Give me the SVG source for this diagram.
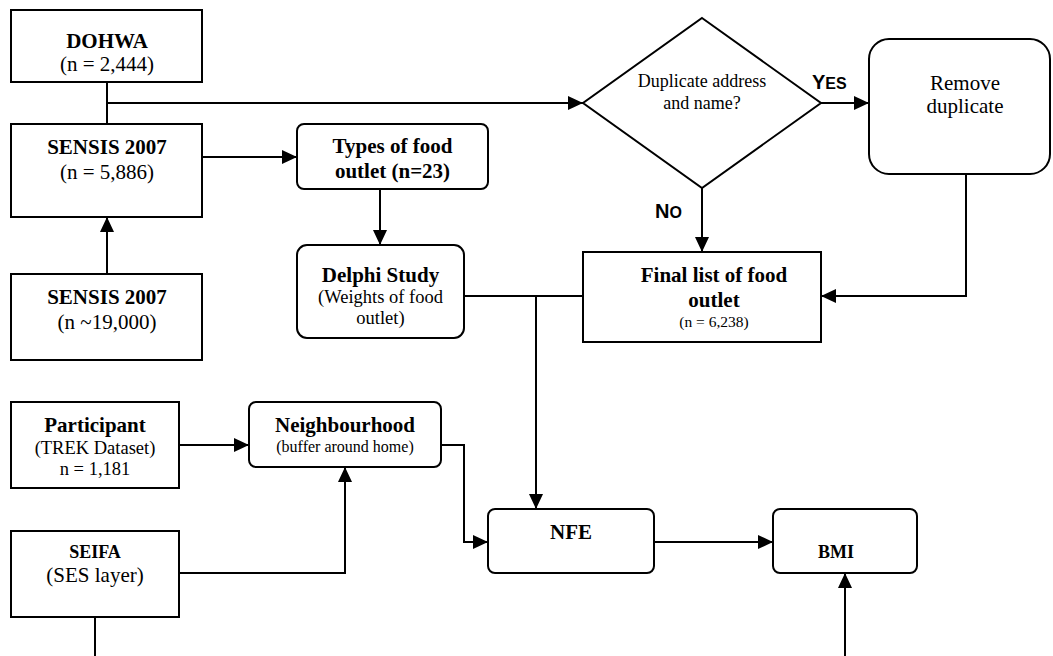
<svg xmlns="http://www.w3.org/2000/svg" width="1053" height="656" viewBox="0 0 1053 656">
<style>
.box{fill:#fff;stroke:#000;stroke-width:2}
.t{font-family:"Liberation Serif","Times New Roman",serif;fill:#000;text-anchor:middle}
.b{font-weight:bold}
.lbl{font-family:"Liberation Sans",Arial,sans-serif;font-weight:bold;fill:#000}
.c{fill:none;stroke:#000;stroke-width:2}
</style>
<defs>
<marker id="ah" markerUnits="userSpaceOnUse" markerWidth="15" markerHeight="14" refX="15" refY="7" orient="auto">
<path d="M0,0 L15,7 L0,14 z" fill="#000"/>
</marker>
</defs>
<rect width="1053" height="656" fill="#fff"/>
<g id="connectors">
<path class="c" d="M107,82 V124"/>
<path class="c" d="M107,103 H583" marker-end="url(#ah)"/>
<path class="c" d="M202,157 H297" marker-end="url(#ah)"/>
<path class="c" d="M107,274 V217" marker-end="url(#ah)"/>
<path class="c" d="M380,189 V245" marker-end="url(#ah)"/>
<path class="c" d="M464,296 H583"/>
<path class="c" d="M536,296 V509" marker-end="url(#ah)"/>
<path class="c" d="M821,103 H869" marker-end="url(#ah)"/>
<path class="c" d="M702,188 V252" marker-end="url(#ah)"/>
<path class="c" d="M966,174 V296 H821" marker-end="url(#ah)"/>
<path class="c" d="M179,445 H249" marker-end="url(#ah)"/>
<path class="c" d="M179,573 H345 V467" marker-end="url(#ah)"/>
<path class="c" d="M441,445 H464 V542 H488" marker-end="url(#ah)"/>
<path class="c" d="M654,542 H773" marker-end="url(#ah)"/>
<path class="c" d="M95,617 V656"/>
<path class="c" d="M845,656 V573" marker-end="url(#ah)"/>
<text class="lbl" x="812" y="89"><tspan font-size="20">Y</tspan><tspan font-size="16">ES</tspan></text>
<text class="lbl" x="655" y="218"><tspan font-size="20">N</tspan><tspan font-size="16">O</tspan></text>
</g>
<g id="dohwa">
<rect class="box" x="11" y="10" width="191" height="72"/>
<text class="t b" x="107" y="48" font-size="21">DOHWA</text>
<text class="t" x="107" y="71" font-size="21">(n = 2,444)</text>
</g>
<g id="sensis1">
<rect class="box" x="11" y="124" width="191" height="93"/>
<text class="t b" x="107" y="154" font-size="21">SENSIS 2007</text>
<text class="t" x="107" y="179" font-size="21">(n = 5,886)</text>
</g>
<g id="sensis2">
<rect class="box" x="11" y="274" width="191" height="86"/>
<text class="t b" x="107" y="304" font-size="21">SENSIS 2007</text>
<text class="t" x="107" y="329" font-size="21">(n ~19,000)</text>
</g>
<g id="types">
<rect class="box" x="297" y="124" width="191" height="65" rx="7"/>
<text class="t b" x="392.5" y="153" font-size="21">Types of food</text>
<text class="t b" x="392.5" y="178" font-size="21">outlet (n=23)</text>
</g>
<g id="delphi">
<rect class="box" x="297" y="245" width="167" height="93" rx="10"/>
<text class="t b" x="380.5" y="282" font-size="21">Delphi Study</text>
<text class="t" x="380.5" y="303" font-size="18.5">(Weights of food</text>
<text class="t" x="380.5" y="324" font-size="18.5">outlet)</text>
</g>
<g id="decision">
<polygon points="702,18 821,103 702,188 583,103" fill="#fff" stroke="#000" stroke-width="2"/>
<text class="t" x="702" y="87" font-size="18">Duplicate address</text>
<text class="t" x="702" y="109" font-size="18">and name?</text>
</g>
<g id="remove">
<rect class="box" x="869" y="39" width="181" height="135" rx="20"/>
<text class="t" x="965" y="90" font-size="21">Remove</text>
<text class="t" x="965" y="113" font-size="21">duplicate</text>
</g>
<g id="final">
<rect class="box" x="583" y="252" width="238" height="90"/>
<text class="t b" x="714" y="282" font-size="21">Final list of food</text>
<text class="t b" x="714" y="307" font-size="21">outlet</text>
<text class="t" x="714" y="327" font-size="15.5">(n = 6,238)</text>
</g>
<g id="participant">
<rect class="box" x="11" y="402" width="168" height="86"/>
<text class="t b" x="95" y="432" font-size="21">Participant</text>
<text class="t" x="95" y="454" font-size="18.5">(TREK Dataset)</text>
<text class="t" x="95" y="475" font-size="18.5">n = 1,181</text>
</g>
<g id="neighbourhood">
<rect class="box" x="249" y="402" width="192" height="65" rx="7"/>
<text class="t b" x="345" y="432" font-size="21">Neighbourhood</text>
<text class="t" x="345" y="452" font-size="16">(buffer around home)</text>
</g>
<g id="seifa">
<rect class="box" x="11" y="531" width="168" height="86"/>
<text class="t b" x="95" y="558" font-size="18">SEIFA</text>
<text class="t" x="95" y="582" font-size="21">(SES layer)</text>
</g>
<g id="nfe">
<rect class="box" x="488" y="509" width="166" height="64" rx="7"/>
<text class="t b" x="571" y="539" font-size="21">NFE</text>
</g>
<g id="bmi">
<rect class="box" x="773" y="509" width="144" height="64" rx="7"/>
<text class="t b" x="836" y="558" font-size="18">BMI</text>
</g>
</svg>
